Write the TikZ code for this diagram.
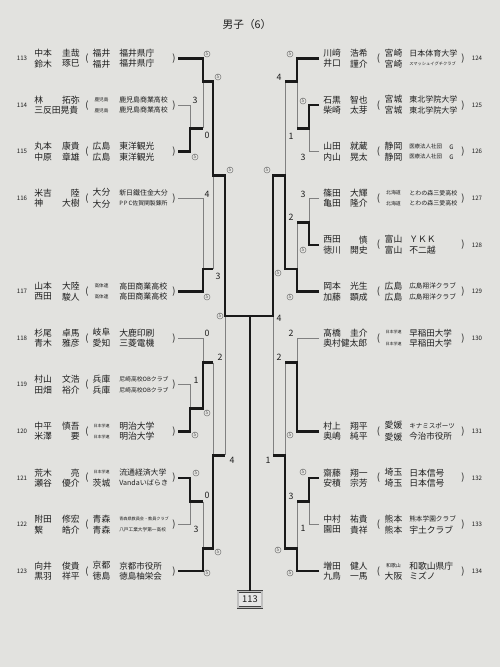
\documentclass[tikz,border=0pt]{standalone}
\usepackage{fontspec}
\setmainfont{Noto Sans CJK JP}
\definecolor{paper}{RGB}{226,226,223}
\definecolor{ink}{RGB}{30,30,30}
\newcommand\fs[1]{\fontsize{#1}{#1}\selectfont}

\begin{document}
\begin{tikzpicture}[x=0.75pt,y=-0.75pt,
  nm/.style={font=\fs{6.6},text=ink,inner sep=0pt},
  num/.style={font=\fs{4.6},text=ink,inner sep=0pt},
  par/.style={font=\fs{7},text=ink,inner sep=0pt},
  sc/.style={font=\fs{6.6},text=ink,inner sep=0pt},
  five/.style={circle,draw=black!55,line width=0.35pt,inner sep=0.45pt,font=\fs{3.6},text=black!65},
  logo/.style={font=\fs{4.6},text=ink,inner sep=0pt},
  won/.style={line width=2pt,black!90},
  lost/.style={line width=0.6pt,black!50},
  champ/.style={draw=black!75,line width=0.6pt,double=black!25,double distance=0.9pt,fill=white!90!black,
    font=\fs{7},text=ink,minimum width=18pt,minimum height=12pt,inner sep=1pt}]
\fill[paper] (0,0) rectangle (500,667);
\useasboundingbox (0,0) rectangle (500,667);
\node[font=\fs{8},text=ink] (title) at (247,24) {男子（6）};
% left half
\foreach \i/\n/\sa/\ga/\sb/\gb/\pa/\pb/\aa/\ab in {
  0/113/中本/圭哉/鈴木/琢巳/福井/福井/福井県庁/福井県庁,
  1/114/林/拓弥/三反田晃貴//{\fs{3.5}鹿児島}/{\fs{3.5}鹿児島}/{\fs{5.2}鹿児島商業高校}/{\fs{5.2}鹿児島商業高校},
  2/115/丸本/康貴/中原/章雄/広島/広島/東洋観光/東洋観光,
  3/116/米吉/陸/神/大樹/大分/大分/{\fs{5.2}新日鐵住金大分}/{\fs{4.4}P\,P\,C佐賀関製錬所},
  5/117/山本/大陸/西田/駿人/{\fs{3.5}高体連}/{\fs{3.5}高体連}/{\fs{6}高田商業高校}/{\fs{6}高田商業高校},
  6/118/杉尾/卓馬/青木/雅彦/岐阜/愛知/大鹿印刷/三菱電機,
  7/119/村山/文浩/田畑/裕介/兵庫/兵庫/{\fs{4.4}尼崎高校OBクラブ}/{\fs{4.4}尼崎高校OBクラブ},
  8/120/中平/慎吾/米澤/要/{\fs{3}日本学連}/{\fs{3}日本学連}/明治大学/明治大学,
  9/121/荒木/亮/瀬谷/優介/{\fs{3}日本学連}/茨城/{\fs{5.9}流通経済大学}/{\fs{5.3}Vandaいばらき},
  10/122/附田/修宏/繋/皓介/青森/青森/{\fs{3.1}青森県教員会・教員クラブ}/{\fs{3.5}八戸工業大学第一高校},
  11/123/向井/俊貴/黒羽/祥平/京都/徳島/{\fs{6.4}京都市役所}/{\fs{6.4}徳島柚栄会}}{
  \pgfmathsetmacro\c{58.5+46.6*\i}
  \node[num] (n\n) at (22,\c) {\n};
  \node[nm,anchor=west] (sa\n) at (34,\c-5.2) {\sa};
  \node[nm,anchor=east] (ga\n) at (80,\c-5.2) {\ga};
  \node[nm,anchor=west] (sb\n) at (34,\c+5.2) {\sb};
  \node[nm,anchor=east] (gb\n) at (80,\c+5.2) {\gb};
  \node[par] (lp\n) at (87,\c) {(};
  \node[nm] (pa\n) at (101.5,\c-5.7) {\pa};
  \node[nm] (pb\n) at (101.5,\c+5.4) {\pb};
  \node[nm,anchor=west] (aa\n) at (119,\c-5.2) {\aa};
  \node[nm,anchor=west] (ab\n) at (119,\c+5.2) {\ab};
  \node[par] (rp\n) at (174,\c) {)};
  \coordinate (p\n) at (178,\c);
}
% right half
\foreach \i/\n/\sa/\ga/\sb/\gb/\pa/\pb/\aa/\ab in {
  0/124/川﨑/浩希/井口/謹介/宮崎/宮崎/{\fs{6}日本体育大学}/{\fs{3.2}スマッシュイグチクラブ},
  1/125/石黒/智也/柴崎/太芽/宮城/宮城/{\fs{6}東北学院大学}/{\fs{6}東北学院大学},
  2/126/山田/就蔵/内山/晃太/静岡/静岡/{\fs{4.1}医療法人社団}/{\fs{4.1}医療法人社団},
  3/127/篠田/大輝/亀田/隆介/{\fs{3.7}北海道}/{\fs{3.7}北海道}/{\fs{4.5}とわの森三愛高校}/{\fs{4.5}とわの森三愛高校},
  4/128/西田/慎/徳川/開史/富山/富山/ＹＫＫ/不二越,
  5/129/岡本/光生/加藤/顕成/広島/広島/{\fs{5}広島翔洋クラブ}/{\fs{5}広島翔洋クラブ},
  6/130/髙橋/圭介/奥村健太郎//{\fs{3}日本学連}/{\fs{3}日本学連}/{\fs{6.4}早稲田大学}/{\fs{6.4}早稲田大学},
  8/131/村上/翔平/奥嶋/純平/愛媛/愛媛/{\fs{4.9}キナミスポーツ}/{\fs{6.4}今治市役所},
  9/132/齋藤/翔一/安積/宗芳/埼玉/埼玉/日本信号/日本信号,
  10/133/中村/祐貴/園田/貴祥/熊本/熊本/{\fs{5}熊本学園クラブ}/宇土クラブ,
  11/134/増田/健人/九鳥/一馬/{\fs{3.7}和歌山}/大阪/和歌山県庁/ミズノ}{
  \pgfmathsetmacro\c{58.5+46.6*\i}
  \node[nm,anchor=west] (sa\n) at (323,\c-5.2) {\sa};
  \node[nm,anchor=east] (ga\n) at (368,\c-5.2) {\ga};
  \node[nm,anchor=west] (sb\n) at (323,\c+5.2) {\sb};
  \node[nm,anchor=east] (gb\n) at (368,\c+5.2) {\gb};
  \node[par] (lp\n) at (378.5,\c) {(};
  \node[nm] (pa\n) at (393.5,\c-5.7) {\pa};
  \node[nm] (pb\n) at (393.5,\c+5.4) {\pb};
  \node[nm,anchor=west] (aa\n) at (409,\c-5.2) {\aa};
  \node[nm,anchor=west] (ab\n) at (409,\c+5.2) {\ab};
  \node[par] (rp\n) at (463,\c) {)};
  \node[num] (n\n) at (477,\c) {\n};
  \coordinate (p\n) at (319,\c);
}
\node[logo] (ga126) at (451.5,147.3) {G};
\node[logo] (gb126) at (451.5,157.5) {G};
% match points
\coordinate (a1) at (190,128.4); \coordinate (a2) at (203,81.8);
\coordinate (a3) at (203,269);   \coordinate (a4) at (213,175.5);
\coordinate (a5) at (190,408.7); \coordinate (a6) at (203,362.6);
\coordinate (a7) at (190,501.5); \coordinate (a8) at (203,548.3);
\coordinate (a9) at (213,455.2); \coordinate (a10) at (225,315.9);
\coordinate (b1) at (309,128.4); \coordinate (b2) at (297,81.8);
\coordinate (b3) at (309,222.3); \coordinate (b4) at (297,269);
\coordinate (b5) at (285,175.5); \coordinate (b6) at (297,362.6);
\coordinate (b7) at (309,501.5); \coordinate (b8) at (297,548.3);
\coordinate (b9) at (285,455.2); \coordinate (b10) at (273,315.9);
\coordinate (fin) at (250,315.9);
\node[champ] (box) at (250,599.5) {113};
% losers
\draw[lost] (p114) -| (a1);  \draw[lost] (a1 -| a2) -- (a2);
\draw[lost] (p116) -| (a3);  \draw[lost] (a3 -| a4) -- (a4);
\draw[lost] (p119) -| (a5);  \draw[lost] (p118) -| (a6);
\draw[lost] (a6 -| a9) -- (a9);
\draw[lost] (p122) -| (a7);  \draw[lost] (a7 -| a8) -- (a8);
\draw[lost] (a9 -| a10) -- (a10);
\draw[lost] (p126) -| (b1);  \draw[lost] (b1 -| b2) -- (b2);
\draw[lost] (b2 -| b5) -- (b5);
\draw[lost] (p127) -| (b3);  \draw[lost] (b3 -| b4) -- (b4);
\draw[lost] (p130) -| (b6);  \draw[lost] (b6 -| b9) -- (b9);
\draw[lost] (p133) -| (b7);  \draw[lost] (b7 -| b8) -- (b8);
\draw[lost] (b9 -| b10) -- (b10);
% winners
\draw[won] (p115) -| (a1) -- (a1 -| a2);
\draw[won] (p117) -| (a3) -- (a3 -| a4);
\draw[won] (p113) -| (a2) -- (a2 -| a4) -- (a4) -- (a4 -| a10) -- (a10) -- (fin);
\draw[won] (p120) -| (a5) -- (a5 -| a6) -- (a6) -- (a6 -| a9);
\draw[won] (p121) -| (a7) -- (a7 -| a8);
\draw[won] (p123) -| (a8) -- (a8 -| a9) -- (a9) -- (a9 -| a10);
\draw[won] (p125) -| (b1) -- (b1 -| b2);
\draw[won] (p124) -| (b2) -- (b2 -| b5);
\draw[won] (p128) -| (b3) -- (b3 -| b4);
\draw[won] (p129) -| (b4) -- (b4 -| b5) -- (b5) -- (b5 -| b10) -- (b10) -- (fin);
\draw[won] (p131) -| (b6) -- (b6 -| b9);
\draw[won] (p132) -| (b7) -- (b7 -| b8);
\draw[won] (p134) -| (b8) -- (b8 -| b9) -- (b9) -- (b9 -| b10);
\draw[won] (fin) -- (box.north);
% scores
\foreach \x/\y [count=\k] in {195/157,207/54,207/297,218/77,195/435,207/413,196/473,207/573,
  218/552,230/170,220/316,303/101,290/54,303/250,290/297,278/273,290/435,303/472,290/573,278/550,267/170}
  \node[five] (w\k) at (\x,\y) {5};
\foreach \x/\y/\s [count=\k] in {195/100/3,207/135/0,207/194/4,218/276/3,196/380/1,207/333/0,196/529/3,
  207/495/0,220/357/2,232/460/4,303/157/3,291/136/1,303/194/3,291/217/2,279/77/4,291/333/2,303/528/1,
  291/496/3,279/357/2,268/460/1,279/318/4}
  \node[sc] (s\k) at (\x,\y) {\s};
\end{tikzpicture}
\end{document}
